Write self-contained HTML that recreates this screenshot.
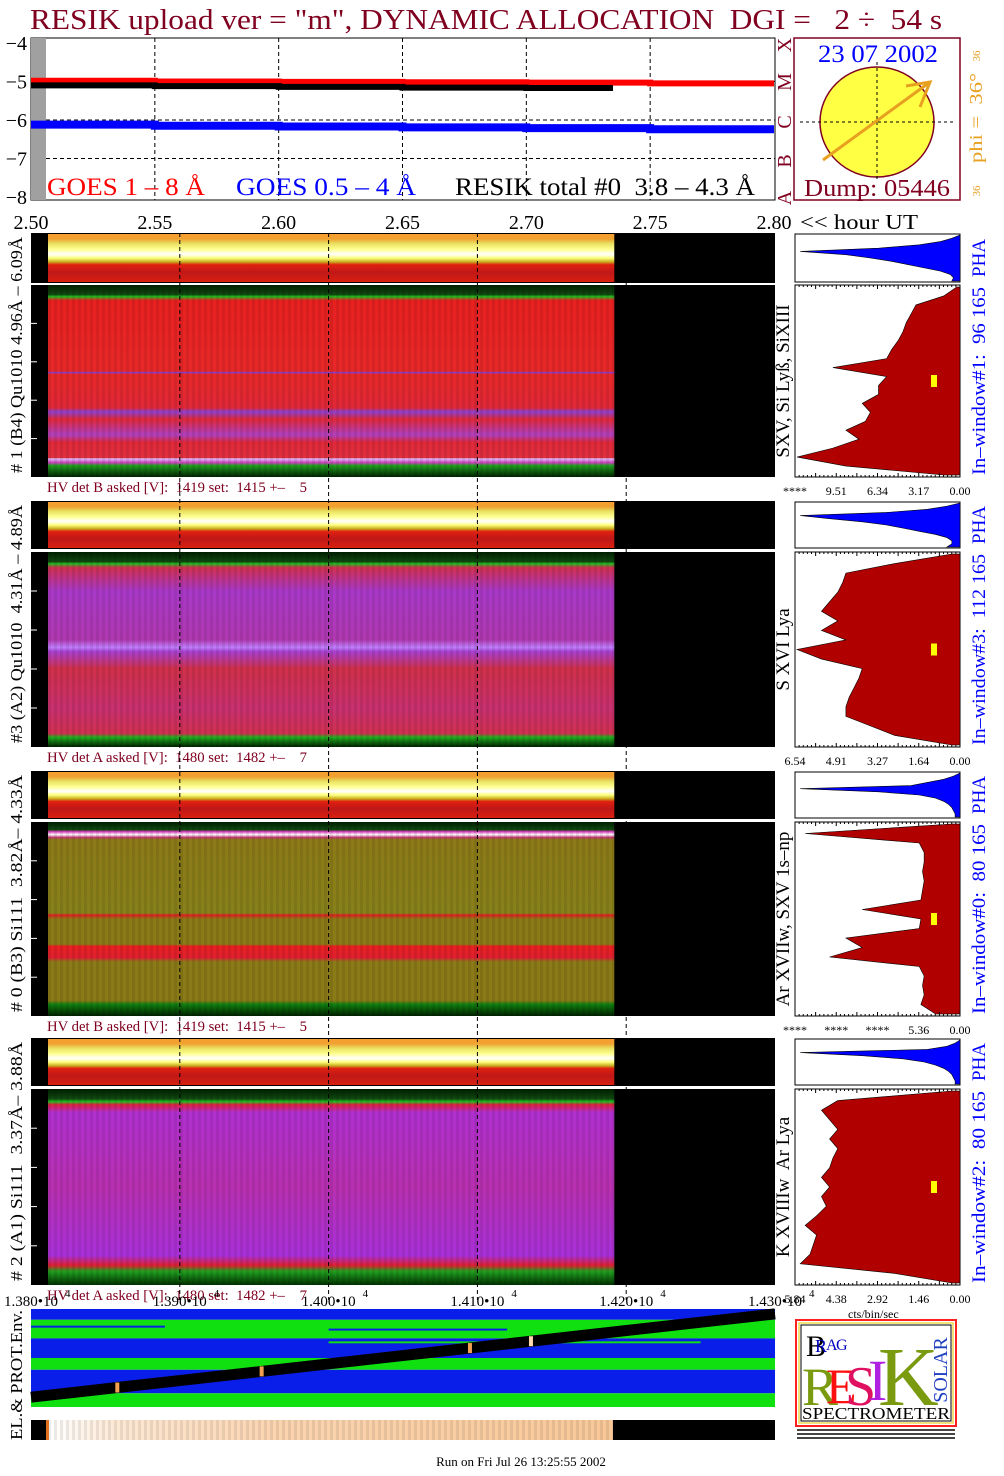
<!DOCTYPE html>
<html><head><meta charset="utf-8">
<style>
html,body{margin:0;padding:0;background:#fff;}
svg{display:block;font-family:"Liberation Serif",serif;}
text{white-space:pre;}
</style></head>
<body>
<svg id="chart" xmlns="http://www.w3.org/2000/svg" width="1004" height="1476" viewBox="0 0 1004 1476">
<defs>
<linearGradient id="strip" x1="0" y1="0" x2="0" y2="1">
 <stop offset="0" stop-color="#f7a030"/><stop offset="0.1" stop-color="#f0a030"/>
 <stop offset="0.2" stop-color="#e8e060"/><stop offset="0.32" stop-color="#ffff90"/>
 <stop offset="0.42" stop-color="#ffffff"/><stop offset="0.5" stop-color="#ffff80"/>
 <stop offset="0.58" stop-color="#c8b020"/><stop offset="0.64" stop-color="#e02010"/>
 <stop offset="0.8" stop-color="#c01818"/><stop offset="1" stop-color="#d82010"/>
</linearGradient>
<linearGradient id="p1" x1="0" y1="0" x2="0" y2="1">
 <stop offset="0" stop-color="#002000"/><stop offset="0.05" stop-color="#104810"/>
 <stop offset="0.06" stop-color="#20c020"/><stop offset="0.08" stop-color="#e82020"/>
 <stop offset="0.45" stop-color="#e82828"/><stop offset="0.455" stop-color="#8040e0"/>
 <stop offset="0.465" stop-color="#e82828"/><stop offset="0.64" stop-color="#e02838"/>
 <stop offset="0.66" stop-color="#9040d0"/><stop offset="0.7" stop-color="#e02838"/>
 <stop offset="0.78" stop-color="#b040c0"/><stop offset="0.82" stop-color="#e02838"/>
 <stop offset="0.9" stop-color="#e03040"/><stop offset="0.905" stop-color="#e0c0ff"/>
 <stop offset="0.925" stop-color="#d040c0"/><stop offset="0.94" stop-color="#20a020"/>
 <stop offset="1" stop-color="#002000"/>
</linearGradient>
<linearGradient id="p2" x1="0" y1="0" x2="0" y2="1">
 <stop offset="0" stop-color="#002000"/><stop offset="0.05" stop-color="#104810"/>
 <stop offset="0.06" stop-color="#20c020"/><stop offset="0.08" stop-color="#d03050"/>
 <stop offset="0.2" stop-color="#a838c8"/><stop offset="0.45" stop-color="#b038b0"/>
 <stop offset="0.49" stop-color="#c080ff"/><stop offset="0.51" stop-color="#a840d0"/>
 <stop offset="0.6" stop-color="#d03048"/><stop offset="0.8" stop-color="#c83070"/>
 <stop offset="0.93" stop-color="#d03050"/><stop offset="0.95" stop-color="#20b020"/>
 <stop offset="1" stop-color="#002000"/>
</linearGradient>
<linearGradient id="p3" x1="0" y1="0" x2="0" y2="1">
 <stop offset="0" stop-color="#002000"/><stop offset="0.04" stop-color="#104810"/>
 <stop offset="0.05" stop-color="#e040c0"/><stop offset="0.065" stop-color="#ffffff"/>
 <stop offset="0.08" stop-color="#c03070"/><stop offset="0.09" stop-color="#8c7a18"/>
 <stop offset="0.47" stop-color="#88801a"/><stop offset="0.48" stop-color="#e02020"/>
 <stop offset="0.5" stop-color="#8a7a18"/><stop offset="0.63" stop-color="#8a7a18"/>
 <stop offset="0.64" stop-color="#e82020"/><stop offset="0.7" stop-color="#e02030"/>
 <stop offset="0.72" stop-color="#8a7a18"/><stop offset="0.92" stop-color="#8a7a18"/>
 <stop offset="0.94" stop-color="#108010"/><stop offset="1" stop-color="#002000"/>
</linearGradient>
<linearGradient id="p4" x1="0" y1="0" x2="0" y2="1">
 <stop offset="0" stop-color="#002000"/><stop offset="0.05" stop-color="#104810"/>
 <stop offset="0.065" stop-color="#20c020"/><stop offset="0.08" stop-color="#e02040"/>
 <stop offset="0.12" stop-color="#b030d0"/><stop offset="0.5" stop-color="#b830b0"/>
 <stop offset="0.85" stop-color="#a830d8"/><stop offset="0.9" stop-color="#e02030"/>
 <stop offset="0.93" stop-color="#20a020"/><stop offset="1" stop-color="#003000"/>
</linearGradient>
<linearGradient id="peach" x1="0" y1="0" x2="1" y2="0">
 <stop offset="0" stop-color="#ffffff"/><stop offset="0.12" stop-color="#fde8d4"/>
 <stop offset="0.4" stop-color="#fbd4b0"/><stop offset="1" stop-color="#f8c898"/>
</linearGradient>
<pattern id="vstripes" width="6" height="4" patternUnits="userSpaceOnUse">
 <rect width="3" height="4" fill="#000" opacity="0.08"/>
</pattern>
</defs>

<text x="30" y="29" font-size="29" fill="#800020" textLength="912" lengthAdjust="spacingAndGlyphs">RESIK upload ver = "m", DYNAMIC ALLOCATION  DGI =   2 ÷  54 s</text>

<g>
 <rect x="31" y="38" width="744" height="162" fill="#fff" stroke="#000" stroke-width="1"/>
 <rect x="31" y="38" width="15" height="162" fill="#a0a0a0"/>
 <g id="goesGrid"></g>
 <g id="goesLines"></g>
 <g id="goesYTicks"></g>
 <text x="47" y="195" font-size="25" fill="#ff0000" textLength="158" lengthAdjust="spacingAndGlyphs">GOES 1 – 8 Å</text>
 <text x="236" y="195" font-size="25" fill="#0000ff" textLength="180" lengthAdjust="spacingAndGlyphs">GOES 0.5 – 4 Å</text>
 <text x="455" y="195" font-size="25" fill="#000" textLength="300" lengthAdjust="spacingAndGlyphs">RESIK total #0  3.8 – 4.3 Å</text>
 <g fill="#800020" font-size="20">
  <text transform="translate(791,45) rotate(-90)" text-anchor="middle">X</text>
  <text transform="translate(791,82) rotate(-90)" text-anchor="middle">M</text>
  <text transform="translate(791,122) rotate(-90)" text-anchor="middle">C</text>
  <text transform="translate(791,161) rotate(-90)" text-anchor="middle">B</text>
  <text transform="translate(791,198) rotate(-90)" text-anchor="middle">A</text>
 </g>
</g>
<g id="topXLabels" font-size="20"></g>
<text x="800" y="229" font-size="21" textLength="118" lengthAdjust="spacingAndGlyphs">&lt;&lt; hour UT</text>

<g>
 <rect x="794" y="38" width="166" height="162" fill="#fff" stroke="#800020" stroke-width="1.5"/>
 <ellipse cx="877" cy="122" rx="57" ry="55" fill="#ffff44" stroke="#800020" stroke-width="1.5"/>
 <line x1="800" y1="122" x2="955" y2="122" stroke="#000" stroke-dasharray="3,3"/>
 <line x1="877" y1="62" x2="877" y2="180" stroke="#000" stroke-dasharray="3,3"/>
 <line x1="823" y1="160" x2="930" y2="82" stroke="#e8a020" stroke-width="3"/>
 <polyline points="906,86 930,82 920,107" fill="none" stroke="#e8a020" stroke-width="3"/>
 <text x="878" y="62" font-size="25" fill="#0000ff" text-anchor="middle" textLength="120" lengthAdjust="spacingAndGlyphs">23 07 2002</text>
 <text x="877" y="196" font-size="24" fill="#800020" text-anchor="middle" textLength="146" lengthAdjust="spacingAndGlyphs">Dump: 05446</text>
 <text transform="translate(982,118) rotate(-90)" font-size="18" fill="#e8a020" text-anchor="middle" textLength="90" lengthAdjust="spacingAndGlyphs">phi =  36°</text>
 <text transform="translate(980,56) rotate(-90)" font-size="11" fill="#e8a020" text-anchor="middle">36</text>
 <text transform="translate(980,191) rotate(-90)" font-size="11" fill="#e8a020" text-anchor="middle">36</text>
</g>

<g id="panels"></g>
<g id="lowGrid"></g>
<g id="spectra"></g>
<g id="bottomXLabels" font-size="15"></g>
<text x="848" y="1318" font-size="12">cts/bin/sec</text>

<g id="env"></g>
<text transform="translate(22,1375) rotate(-90)" font-size="17" text-anchor="middle" textLength="130" lengthAdjust="spacingAndGlyphs">EL.&amp; PROT.Env.</text>
<g>
 <rect x="31" y="1420" width="744" height="20" fill="#000"/>
 <rect x="46" y="1420" width="3" height="20" fill="#e07020"/>
 <rect x="49" y="1420" width="564" height="20" fill="url(#peach)"/>
 <rect x="49" y="1420" width="564" height="20" fill="url(#vstripes)"/>
</g>

<g>
 <rect x="796" y="1320" width="160" height="106" fill="#fff" stroke="#ff2020" stroke-width="2"/>
 <rect x="799" y="1323" width="154" height="100" fill="none" stroke="#e8c800" stroke-width="1"/>
 <rect x="801" y="1325" width="150" height="96" fill="none" stroke="#000" stroke-width="1"/>
 <text x="806" y="1356" font-size="30" fill="#000">B</text>
 <text x="815" y="1352" font-size="18" fill="#0000c0">R</text>
 <text x="826" y="1350" font-size="16" fill="#0000c0">A</text>
 <text x="836" y="1350" font-size="16" fill="#0000c0">G</text>
 <text x="802" y="1405" font-size="54" fill="#7a9a10">R</text>
 <text x="826" y="1403" font-size="50" fill="#ff1010">E</text>
 <text x="845" y="1405" font-size="56" fill="#e01060">S</text>
 <text x="868" y="1400" font-size="58" fill="#b020e0">I</text>
 <text x="878" y="1405" font-size="84" fill="#7a9a10">K</text>
 <text transform="translate(947,1370) rotate(-90)" font-size="20" fill="#2040c0" text-anchor="middle">SOLAR</text>
 <text x="876" y="1419" font-size="17" text-anchor="middle" textLength="148" lengthAdjust="spacingAndGlyphs">SPECTROMETER</text>
 <rect x="797" y="1429" width="158" height="2" fill="#444"/>
 <rect x="797" y="1433" width="158" height="2" fill="#444"/>
 <rect x="797" y="1437" width="158" height="2" fill="#444"/>
</g>
<text x="521" y="1466" font-size="13" text-anchor="middle">Run on Fri Jul 26 13:25:55 2002</text>
</svg>

<script>
const goesTimes   = [2.50, 2.55, 2.60, 2.65, 2.70, 2.75, 2.80];
const goesLong    = [-4.98, -5.00, -5.01, -5.02, -5.03, -5.05, -5.08];
const goesShort   = [-6.12, -6.15, -6.17, -6.19, -6.21, -6.24, -6.28];
const resikTimes  = [2.50, 2.55, 2.60, 2.65, 2.70, 2.735];
const resikTotal  = [-5.10, -5.12, -5.14, -5.16, -5.17, -5.18];
const goesYTicks  = [-4, -5, -6, -7, -8];
const hourTicks   = [2.50, 2.55, 2.60, 2.65, 2.70, 2.75, 2.80];
const hourTickLabels = ["2.50", "2.55", "2.60", "2.65", "2.70", "2.75", "2.80"];
const secTicks    = [13800, 13900, 14000, 14100, 14200, 14300];
const secTickLabels = ["1.380•10", "1.390•10", "1.400•10", "1.410•10", "1.420•10", "1.430•10"];
const dataEndSec  = 14192;

const panelNames  = ["# 1 (B4) Qu1010 4.96Å – 6.09Å", "#3 (A2) Qu1010  4.31Å – 4.89Å", "# 0 (B3) Si111  3.82Å– 4.33Å", "# 2 (A1) Si111  3.37Å– 3.88Å"];
const lineNames   = ["SXV, Si Lyß, SiXIII", "S XVI Lya", "Ar XVIIw, SXV 1s–np", "K XVIIIw  Ar Lya"];
const windowNames = ["In–window#1:  96 165", "In–window#3:  112 165", "In–window#0:  80 165", "In–window#2:  80 165"];
const hvLabels    = ["HV det B asked [V]:  1419 set:  1415 +–    5", "HV det A asked [V]:  1480 set:  1482 +–    7", "HV det B asked [V]:  1419 set:  1415 +–    5", "HV det A asked [V]:  1480 set:  1482 +–    7"];
const specTickLabels = [["****","9.51","6.34","3.17","0.00"],["6.54","4.91","3.27","1.64","0.00"],["****","****","****","5.36","0.00"],["5.84","4.38","2.92","1.46","0.00"]];
const markerPos   = [0.50, 0.50, 0.50, 0.50];

const pha1 = [0.0, 0.05, 0.12, 0.25, 0.5, 0.98, 0.7, 0.55, 0.42, 0.32, 0.22, 0.12, 0.06, 0.04, 0.05];
const pha2 = [0.0, 0.08, 0.2, 0.45, 0.98, 0.8, 0.6, 0.45, 0.35, 0.25, 0.15, 0.08, 0.05, 0.05, 0.08];
const pha3 = [0.0, 0.04, 0.1, 0.2, 0.3, 0.98, 0.5, 0.25, 0.15, 0.1, 0.07, 0.05, 0.04, 0.03, 0.03];
const pha4 = [0.0, 0.03, 0.08, 0.2, 0.98, 0.6, 0.35, 0.22, 0.15, 0.1, 0.07, 0.05, 0.04, 0.03, 0.03];
const spec1 = [0.02, 0.1, 0.27, 0.3, 0.33, 0.35, 0.38, 0.42, 0.45, 0.78, 0.45, 0.5, 0.5, 0.6, 0.55, 0.58, 0.7, 0.62, 0.78, 1.0, 0.7, 0.1];
const spec2 = [0.05, 0.4, 0.7, 0.72, 0.75, 0.8, 0.85, 0.75, 0.85, 0.7, 1.0, 0.85, 0.6, 0.62, 0.65, 0.68, 0.7, 0.7, 0.55, 0.4, 0.05];
const spec3 = [0.05, 0.95, 0.25, 0.22, 0.22, 0.23, 0.22, 0.23, 0.24, 0.6, 0.24, 0.25, 0.7, 0.6, 0.8, 0.25, 0.22, 0.23, 0.22, 0.24, 0.15];
const spec4 = [0.05, 0.75, 0.85, 0.8, 0.75, 0.8, 0.75, 0.78, 0.8, 0.85, 0.8, 0.85, 0.82, 0.88, 0.95, 0.88, 0.9, 0.92, 0.98, 0.4, 0.05];

const envBandStart = [13800, 13800, 13800, 13800, 13800, 13800, 13800, 13890, 14000, 14000, 14120, 14250];
const envBandEnd   = [14300, 14300, 14300, 14300, 14300, 14300, 13890, 14000, 14120, 14250, 14300, 14300];
const envBandTop   = [0.0, 0.11, 0.3, 0.5, 0.62, 0.86, 0.17, 0.35, 0.2, 0.33, 0.22, 0.55];
const envBandBot   = [0.11, 0.3, 0.5, 0.62, 0.86, 1.0, 0.19, 0.37, 0.22, 0.35, 0.24, 0.57];
const envBandCol   = ["#0a1eea", "#10e010", "#0a1eea", "#10e010", "#0a1eea", "#10e010", "#0a1eea", "#0a1eea", "#0a1eea", "#10e010", "#10e010", "#10e010"];
const envLineSec   = [13800, 14300];
const envLineFrac  = [0.9, 0.05];
const envMarkSec   = [13858, 13955, 14095, 14136];

const NS = "http://www.w3.org/2000/svg";
function mk(tag, attrs, parent) {
  const e = document.createElementNS(NS, tag);
  for (const k in attrs) e.setAttribute(k, attrs[k]);
  parent.appendChild(e);
  return e;
}
const xHour = t => 31 + (t - 2.50) / 0.30 * 743;
const yGoes = v => 43 + (-4 - v) * 38.5;
const xSec  = s => 31 + (s - 13800) / 500 * 744;

const gg = document.getElementById('goesGrid');
hourTicks.slice(1, 6).forEach(t => {
  const l = mk('line', {x1: xHour(t), y1: 38, x2: xHour(t), y2: 200, stroke: '#000', 'stroke-dasharray': '4,3'}, gg);
  
  
});
[-5, -6, -7].forEach(v => {
  const l = mk('line', {x1: 46, y1: yGoes(v), x2: 775, y2: yGoes(v), stroke: '#000', 'stroke-dasharray': '4,3'}, gg);
  
  
});
const gy = document.getElementById('goesYTicks');
goesYTicks.forEach(v => {
  const t = mk('text', {x: 27, y: yGoes(v) + 7, 'font-size': 20, 'text-anchor': 'end'}, gy);
  t.textContent = '−' + Math.abs(v);
  
  
});
const gl = document.getElementById('goesLines');
function stepLine(xs, ys, color, w, name) {
  let d = '';
  for (let i = 0; i < xs.length - 1; i++) {
    d += (i === 0 ? 'M' : 'L') + xHour(xs[i]) + ',' + yGoes(ys[i]) + ' L' + xHour(xs[i + 1]) + ',' + yGoes(ys[i]) + ' ';
  }
  const p = mk('path', {d: d, stroke: color, 'stroke-width': w, fill: 'none'}, gl);
  
  
}
stepLine(goesTimes, goesLong, '#ff0000', 6, 'goes-long-line');
stepLine(goesTimes, goesShort, '#0000ff', 8, 'goes-short-line');
stepLine(resikTimes, resikTotal, '#000000', 6, 'resik-total-line');

const tx = document.getElementById('topXLabels');
hourTicks.forEach((t, i) => {
  const e = mk('text', {x: xHour(t), y: 229, 'text-anchor': 'middle'}, tx);
  e.textContent = hourTickLabels[i];
  
  
});

const panelY = [[233, 283, 285, 477], [501, 549, 552, 747], [771, 819, 822, 1016], [1038, 1086, 1089, 1285]];
const grads = ['p1', 'p2', 'p3', 'p4'];
const phaData = [pha1, pha2, pha3, pha4];
const specData = [spec1, spec2, spec3, spec4];
const pg = document.getElementById('panels');
const sg = document.getElementById('spectra');
const xEnd = xSec(dataEndSec);
function profile(arr, x0, x1, y0, y1, color, parent, name) {
  let pts = x1 + ',' + y0 + ' ';
  arr.forEach((v, i) => {
    const y = y0 + (y1 - y0) * i / (arr.length - 1);
    pts += (x1 - v * (x1 - x0)) + ',' + y + ' ';
  });
  pts += x1 + ',' + y1;
  const p = mk('polygon', {points: pts, fill: color, stroke: '#000', 'stroke-width': 0.6}, parent);
  
  
}
panelY.forEach((py, i) => {
  const g = mk('g', {}, pg);
  
  
  mk('rect', {x: 31, y: py[0], width: 744, height: py[1] - py[0], fill: '#000'}, g);
  mk('rect', {x: 48, y: py[0] + 1, width: xEnd - 48, height: py[1] - py[0] - 2, fill: 'url(#strip)'}, g);
  mk('rect', {x: 31, y: py[2], width: 744, height: py[3] - py[2], fill: '#000'}, g);
  mk('rect', {x: 48, y: py[2], width: xEnd - 48, height: py[3] - py[2], fill: 'url(#' + grads[i] + ')'}, g);
  mk('rect', {x: 48, y: py[2], width: xEnd - 48, height: py[3] - py[2], fill: 'url(#vstripes)'}, g);
  for (let k = 1; k <= 4; k++) {
    mk('line', {x1: 31, x2: 37, y1: py[2] + (py[3] - py[2]) * k / 5, y2: py[2] + (py[3] - py[2]) * k / 5, stroke: '#fff'}, g);
  }
  const nm = mk('text', {transform: 'translate(22,' + ((py[0] + py[3]) / 2) + ') rotate(-90)', 'font-size': 17, 'text-anchor': 'middle', textLength: (py[3] - py[0] - 8), lengthAdjust: 'spacingAndGlyphs'}, g);
  nm.textContent = panelNames[i];
  
  
  const hv = mk('text', {x: 47, y: py[3] + 15, 'font-size': 15, fill: '#800020', textLength: 260, lengthAdjust: 'spacingAndGlyphs'}, g);
  hv.textContent = hvLabels[i];
  
  

  const s = mk('g', {}, sg);
  
  
  mk('rect', {x: 795, y: py[0] + 1, width: 165, height: py[1] - py[0] - 2, fill: '#fff', stroke: '#000'}, s);
  profile(phaData[i], 797, 960, py[0] + 2, py[1] - 2, '#0000ff', s, 'pha-histogram');
  mk('rect', {x: 795, y: py[2], width: 165, height: py[3] - py[2], fill: '#fff', stroke: '#000'}, s);
  profile(specData[i], 797, 960, py[2] + 2, py[3] - 2, '#b00000', s, 'spectrum-histogram');
  for (let k = 0; k <= 40; k++) {
    const x = 795 + 165 * k / 40;
    mk('line', {x1: x, x2: x, y1: py[2], y2: py[2] + (k % 5 ? 2 : 4), stroke: '#000'}, s);
    mk('line', {x1: x, x2: x, y1: py[3], y2: py[3] - (k % 5 ? 2 : 4), stroke: '#000'}, s);
  }
  const my = py[2] + (py[3] - py[2]) * markerPos[i];
  const mrk = mk('rect', {x: 931, y: my - 6, width: 6, height: 12, fill: '#ffff00'}, s);
  
  
  const ln = mk('text', {transform: 'translate(789,' + ((py[2] + py[3]) / 2) + ') rotate(-90)', 'font-size': 19, 'text-anchor': 'middle'}, s);
  ln.textContent = lineNames[i];
  
  
  const ph = mk('text', {transform: 'translate(985,' + ((py[0] + py[1]) / 2) + ') rotate(-90)', 'font-size': 19, fill: '#0000ff', 'text-anchor': 'middle'}, s);
  ph.textContent = 'PHA';
  
  
  const wn = mk('text', {transform: 'translate(985,' + ((py[2] + py[3]) / 2) + ') rotate(-90)', 'font-size': 19, fill: '#0000ff', 'text-anchor': 'middle', textLength: (py[3] - py[2] - 4), lengthAdjust: 'spacingAndGlyphs'}, s);
  wn.textContent = windowNames[i];
  
  
  specTickLabels[i].forEach((lab, k) => {
    const t = mk('text', {x: 795 + 165 * k / 4, y: py[3] + 18, 'font-size': 12, 'text-anchor': 'middle'}, s);
    t.textContent = lab;
    
    
  });
});

const lg = document.getElementById('lowGrid');
secTicks.slice(1, 5).forEach(s => {
  const l = mk('line', {x1: xSec(s), y1: 233, x2: xSec(s), y2: 1300, stroke: '#000', 'stroke-dasharray': '4,3'}, lg);
  
  
});
const bx = document.getElementById('bottomXLabels');
secTicks.forEach((s, i) => {
  const t = mk('text', {x: xSec(s), y: 1306, 'text-anchor': 'middle'}, bx);
  t.textContent = secTickLabels[i];
  
  
  const sp = mk('text', {x: xSec(s) + 34, y: 1297, 'font-size': 11}, bx);
  sp.textContent = '4';
});

const env = document.getElementById('env');
const eY0 = 1309, eY1 = 1407;
envBandStart.forEach((s0, i) => {
  const r = mk('rect', {x: xSec(s0), y: eY0 + (eY1 - eY0) * envBandTop[i], width: xSec(envBandEnd[i]) - xSec(s0), height: (eY1 - eY0) * (envBandBot[i] - envBandTop[i]), fill: envBandCol[i]}, env);
  
  
});
const el = mk('line', {x1: xSec(envLineSec[0]), y1: eY0 + (eY1 - eY0) * envLineFrac[0], x2: xSec(envLineSec[1]), y2: eY0 + (eY1 - eY0) * envLineFrac[1], stroke: '#000', 'stroke-width': 11}, env);


envMarkSec.forEach((s, i) => {
  const f = envLineFrac[0] + (envLineFrac[1] - envLineFrac[0]) * (s - envLineSec[0]) / (envLineSec[1] - envLineSec[0]);
  const m = mk('rect', {x: xSec(s) - 2, y: eY0 + (eY1 - eY0) * f - 5, width: 4, height: 10, fill: i === 3 ? '#ffd8b0' : '#f0a050'}, env);
  
  
});
</script>
</body></html>
